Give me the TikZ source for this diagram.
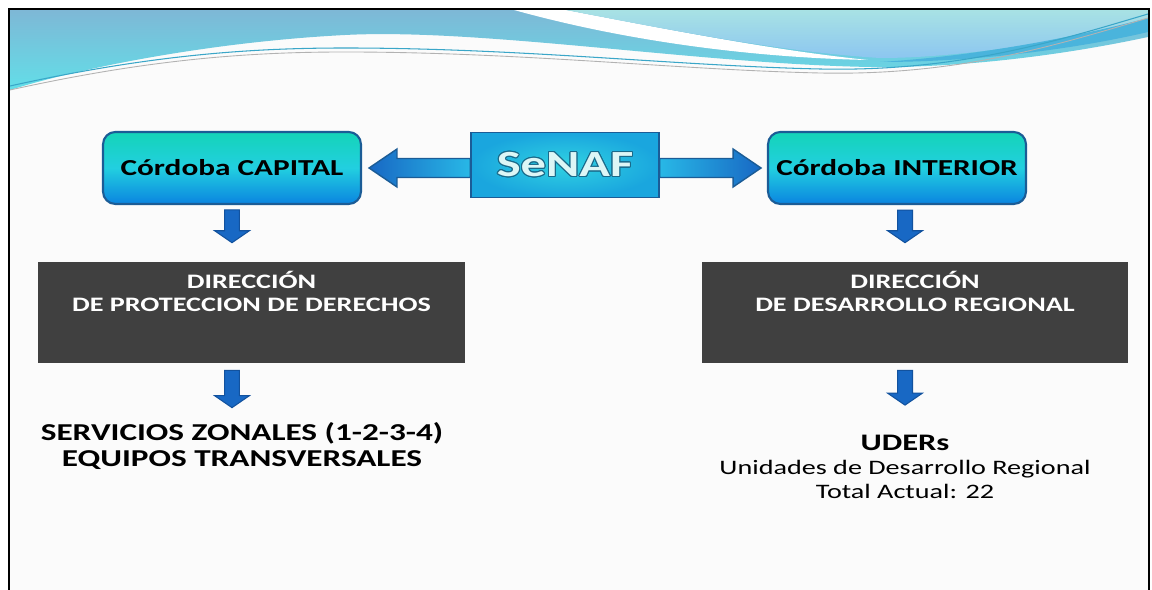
\documentclass[tikz,border=0pt]{standalone}
\usepackage{fontspec}
\setmainfont{Carlito}[FakeStretch=1.37]
\usepackage[copies]{contour}
\contourlength{0.6pt}
\usetikzlibrary{positioning,calc}
\definecolor{bandsteel}{HTML}{7EB8D6}
\definecolor{bandcyan}{HTML}{62DEE8}
\definecolor{bandpale}{HTML}{A8E2E4}
\definecolor{bandsky}{HTML}{8CC6F0}
\definecolor{bandblue}{HTML}{4AB4DC}
\definecolor{linecyan}{HTML}{3AA6C8}
\definecolor{cityteal}{HTML}{14D4B8}
\definecolor{citycyan}{HTML}{22CFE0}
\definecolor{cityblue}{HTML}{0A84E0}
\definecolor{boxedge}{HTML}{1B5C96}
\definecolor{senafcore}{HTML}{30D2E2}
\definecolor{senafrim}{HTML}{1AA6DE}
\definecolor{arrowblue}{HTML}{1868C4}
\definecolor{arrowedge}{HTML}{12529E}
\definecolor{arrowpale}{HTML}{28B8E6}
\definecolor{dirgray}{HTML}{404040}
\definecolor{senaftext}{HTML}{DDF6F6}
\definecolor{senafline}{HTML}{1A6A8A}
\definecolor{slidebg}{HTML}{FBFBFB}
\tikzset{
  citybox/.style={draw=boxedge, line width=1.2pt, rounded corners=7pt,
    top color=cityteal, bottom color=cityblue, middle color=citycyan,
    minimum width=5.16cm, minimum height=1.44cm,
    font=\bfseries\fontsize{13}{15}\selectfont},
  senafbox/.style={draw=boxedge, line width=0.8pt, inner color=senafcore, outer color=senafrim,
    minimum width=3.76cm, minimum height=1.3cm, text=senaftext,
    font=\bfseries\fontsize{21}{25}\selectfont},
  dirbox/.style={fill=dirgray, minimum width=8.54cm, minimum height=2.02cm},
  dirtext/.style={text=white, align=center, inner sep=0pt,
    font=\bfseries\fontsize{11.7}{13.6}\selectfont},
  bigtext/.style={align=center, inner sep=0pt, font=\bfseries\fontsize{13.8}{15.3}\selectfont},
  unitext/.style={align=center, inner sep=0pt, font=\fontsize{11.7}{13.6}\selectfont},
  blockdown/.style={draw=arrowedge, fill=arrowblue, line width=0.6pt,
    to path={let \p1=(\tikztostart), \p2=(\tikztotarget) in
      (\x1-4.25pt,\y1) -- (\x1-4.25pt,\y2+6.8pt) -- (\x1-9.9pt,\y2+6.8pt) -- (\x1,\y2)
      -- (\x1+9.9pt,\y2+6.8pt) -- (\x1+4.25pt,\y2+6.8pt) -- (\x1+4.25pt,\y1) -- cycle}},
  blockleft/.style={draw=boxedge, line width=0.8pt,
    to path={let \p1=(\tikztostart), \p2=(\tikztotarget) in
      (\x1,\y1+5.4pt) -- (\x2+15.9pt,\y1+5.4pt) -- (\x2+15.9pt,\y1+10.8pt) -- (\x2,\y1)
      -- (\x2+15.9pt,\y1-10.8pt) -- (\x2+15.9pt,\y1-5.4pt) -- (\x1,\y1-5.4pt) -- cycle}},
  blockright/.style={draw=boxedge, line width=0.8pt,
    to path={let \p1=(\tikztostart), \p2=(\tikztotarget) in
      (\x1,\y1+5.4pt) -- (\x2-15.9pt,\y1+5.4pt) -- (\x2-15.9pt,\y1+10.8pt) -- (\x2,\y1)
      -- (\x2-15.9pt,\y1-10.8pt) -- (\x2-15.9pt,\y1-5.4pt) -- (\x1,\y1-5.4pt) -- cycle}}
}
\begin{document}
\begin{tikzpicture}[x=0.02cm, y=-0.02cm]
        \useasboundingbox (0,0) rectangle (1152,590);
        % Slide background and frame
        \fill[white] (0,0) rectangle (1152,590);
        \fill[slidebg] (9,9) rectangle (1149,590);
        % Header waves
        \begin{scope}
          \clip (10,10) rectangle (1148,120);
          \shade[top color=bandsteel, bottom color=bandcyan] (10,10) -- (1148,10) -- (1148,37)
            .. controls (1050,58) and (950,68) .. (870,67)
            .. controls (700,64) and (480,28) .. (345,35)
            .. controls (210,42) and (80,68) .. (10,90) -- cycle;
          \fill[white] (514,10) .. controls (640,45) and (770,58) .. (868,60)
            .. controls (770,50) and (660,28) .. (566,10) -- cycle;
          \shade[top color=bandpale, bottom color=bandsky] (566,10) -- (1148,10) -- (1148,20)
            .. controls (1060,42) and (960,58) .. (880,58)
            .. controls (780,52) and (660,28) .. (566,10) -- cycle;
          \fill[bandblue] (880,62) .. controls (980,56) and (1080,36) .. (1148,18) -- (1148,32)
            .. controls (1080,48) and (980,62) .. (880,62) -- cycle;
          \draw[linecyan, line width=0.6pt] (10,86) .. controls (150,55) and (250,48) .. (345,48)
            .. controls (520,48) and (680,66) .. (820,69) .. controls (960,72) and (1060,40) .. (1148,14);
          \draw[gray!60, line width=0.5pt] (10,90) .. controls (150,59) and (250,52) .. (345,52)
            .. controls (520,52) and (680,70) .. (820,73) .. controls (960,76) and (1060,44) .. (1148,18);
        \end{scope}
        \draw[line width=1.4pt] (9,600) -- (9,9) -- (1149,9) -- (1149,600);
        % Draw boxes
        \node[citybox] (capital) at (232,168) {Córdoba CAPITAL};
        \node[senafbox] (senaf) at (565,165) {\contour{senafline}{SeNAF}};
        \node[citybox] (interior) at (897,168) {Córdoba INTERIOR};
        \node[dirbox] (dirprot) at (251.5,312.5) {};
        \node[dirtext, anchor=north] (dirprottext) at ([yshift=-5pt]dirprot.north) {DIRECCIÓN\\DE PROTECCION DE DERECHOS};
        \node[dirbox] (dirdes) at (915,312.5) {};
        \node[dirtext, anchor=north] (dirdestext) at ([yshift=-5pt]dirdes.north) {DIRECCIÓN\\DE DESARROLLO REGIONAL};
        \node[bigtext] (servicios) at (242,446) {SERVICIOS ZONALES (1-2-3-4)\\EQUIPOS TRANSVERSALES};
        \node[unitext] (uders) at (905,467) {{\bfseries\fontsize{13.5}{15.3}\selectfont UDERs}\\Unidades de Desarrollo Regional\\Total Actual: 22};
        % Draw arrows
        \draw[blockleft, left color=arrowblue, right color=arrowpale] (senaf.west |- capital.east) to ([xshift=4pt]capital.east);
        \draw[blockright, left color=arrowpale, right color=arrowblue] (senaf.east |- interior.west) to ([xshift=-3.4pt]interior.west);
        \draw[blockdown] ([yshift=-2.8pt]capital.south) to ([yshift=10.8pt]dirprot.north);
        \draw[blockdown] ($(capital.south |- dirprot.south)+(0,7)$) to ([yshift=8pt]servicios.north);
        \draw[blockdown] ($(uders.north |- interior.south)+(0,5)$) to ([yshift=10.8pt]dirdes.north);
        \draw[blockdown] ($(uders.north |- dirdes.south)+(0,7)$) to ([yshift=17pt]uders.north);
    \end{tikzpicture}
\end{document}
